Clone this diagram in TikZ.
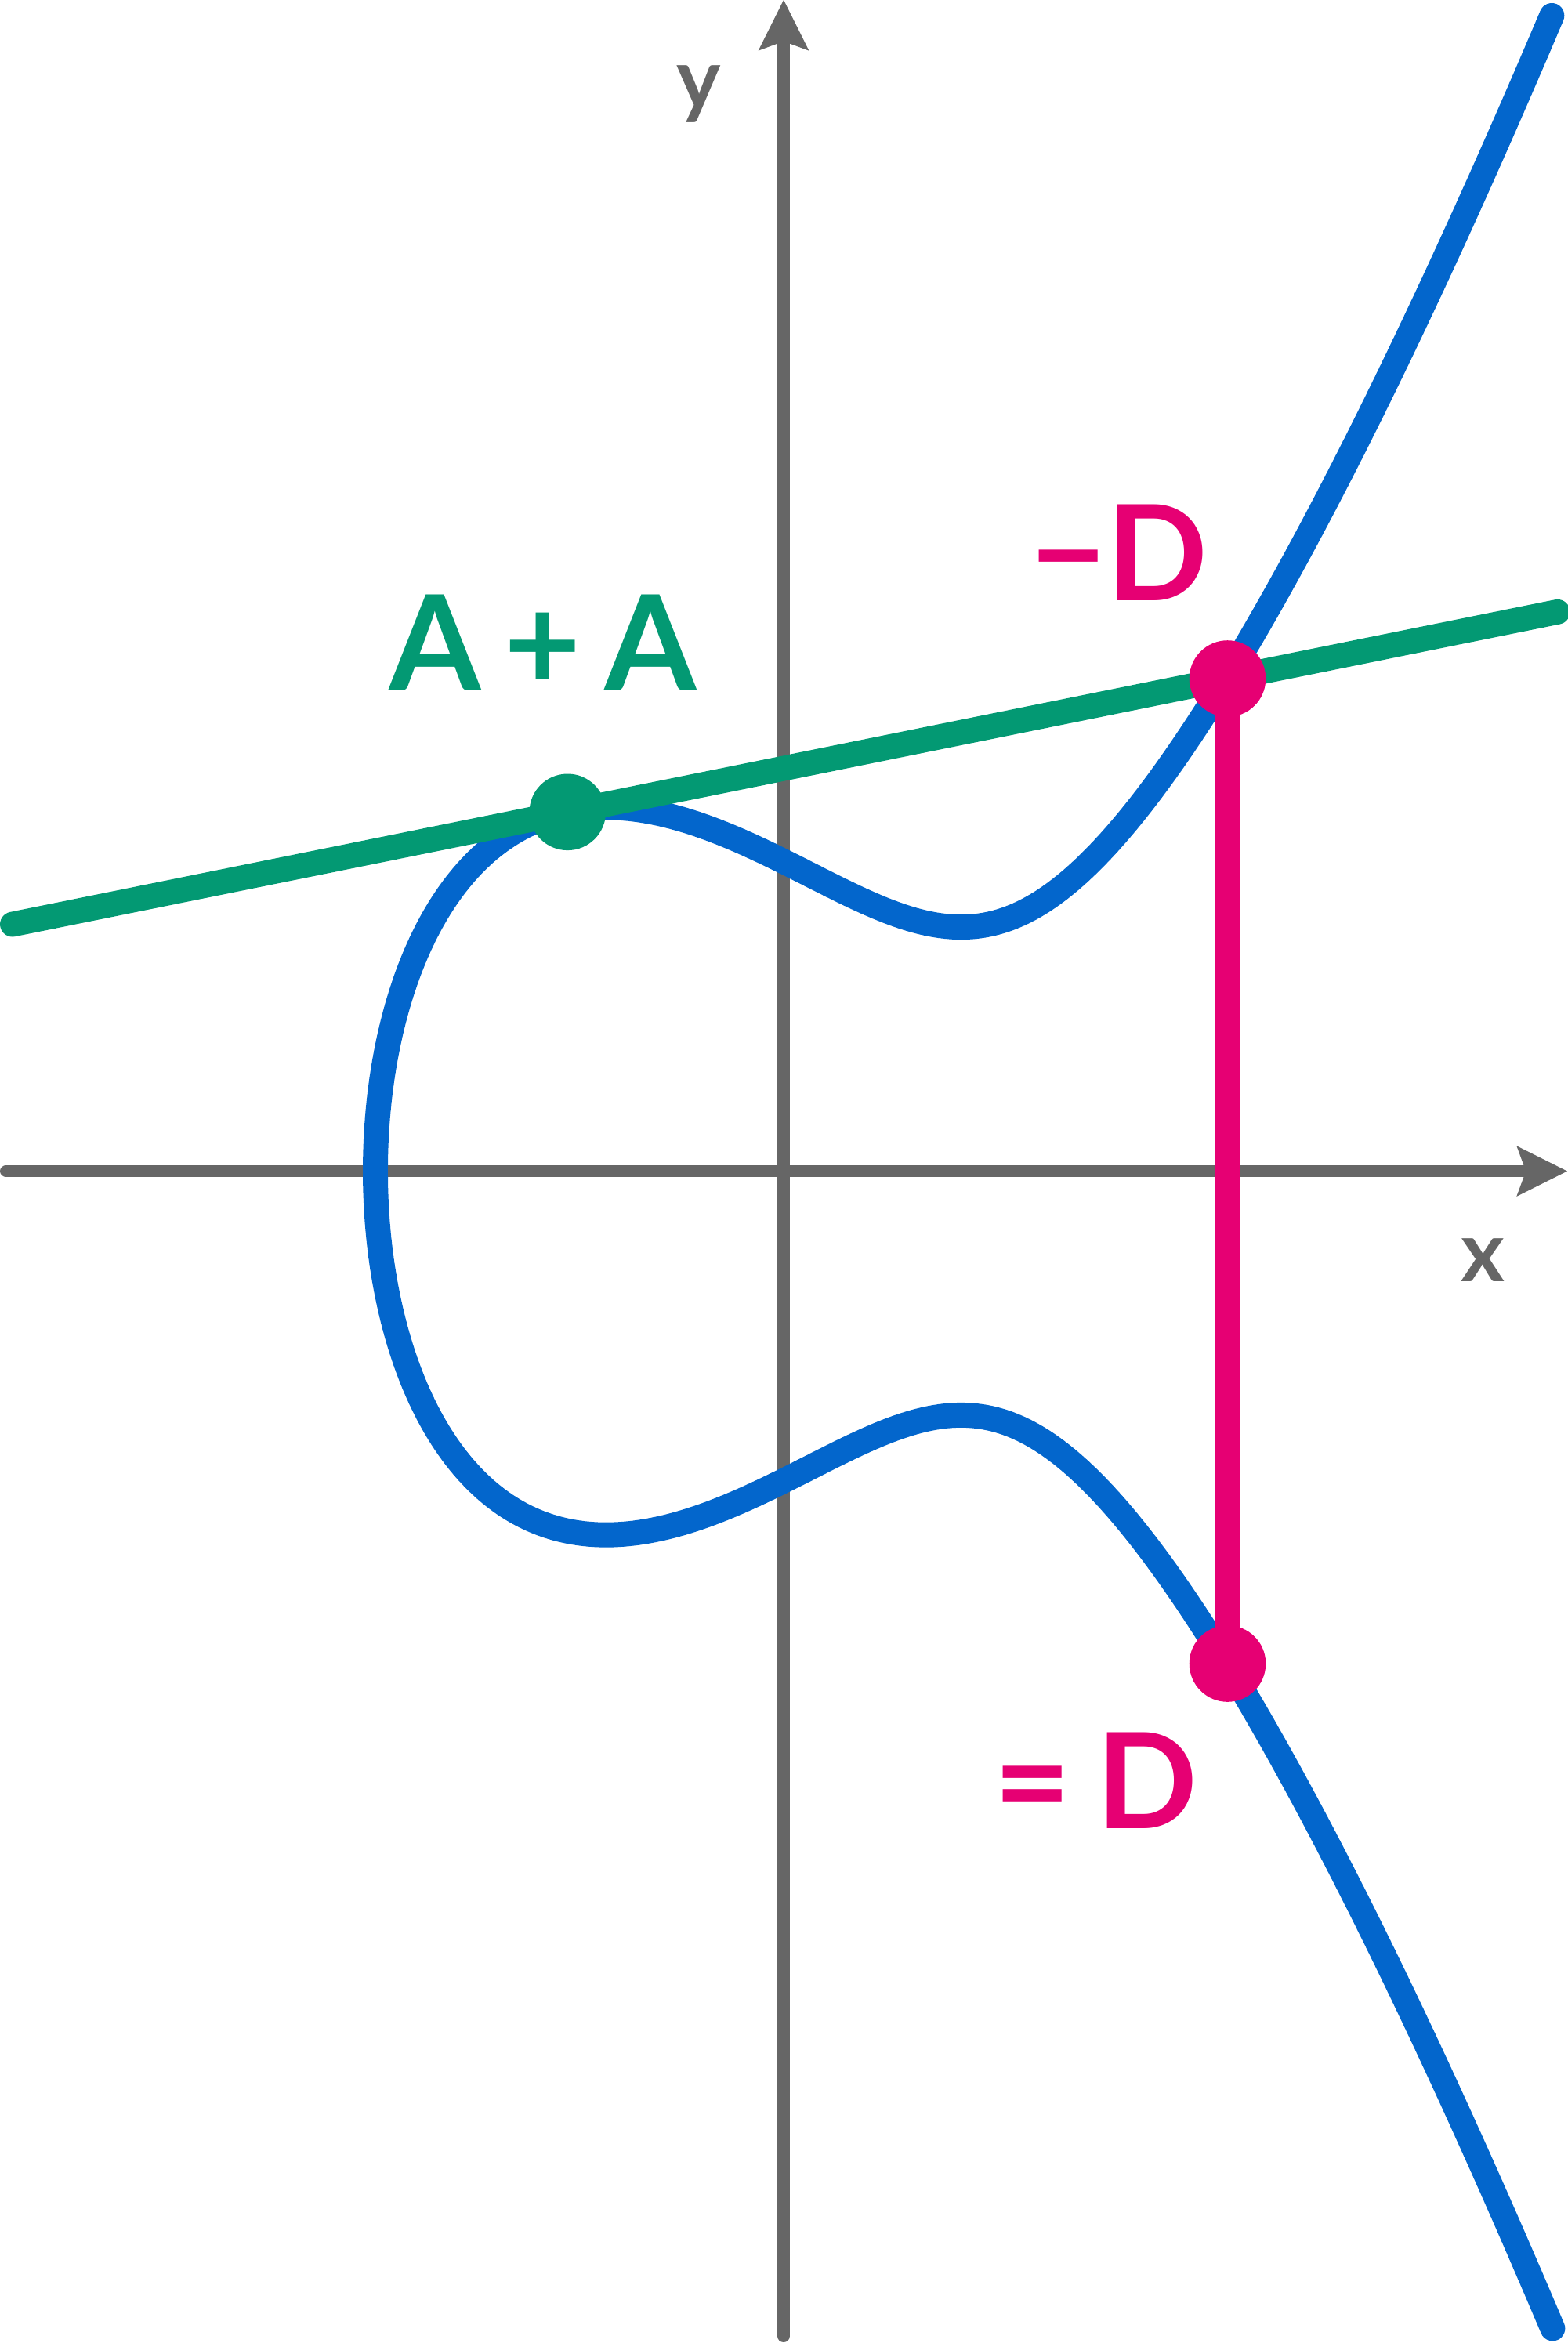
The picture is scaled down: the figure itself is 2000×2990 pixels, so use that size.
\documentclass[tikz,border=0pt]{standalone}
\usepackage{fontspec}
\setmainfont{Lato}
\usetikzlibrary{arrows.meta,calc}
\definecolor{ecblue}{HTML}{0366CC}
\definecolor{ecgreen}{HTML}{039973}
\definecolor{ecpink}{HTML}{E60073}
\definecolor{axisgray}{HTML}{666666}
\pgfdeclarelayer{bg}
\pgfsetlayers{bg,main}
\begin{document}
\begin{tikzpicture}[x=0.025cm,y=-0.025cm,
  axisline/.style={draw=axisgray, line width=11.34pt, line cap=round,
    -{Stealth[length=46pt,width=46pt,inset=8.5pt,line width=0pt]}},
  curveline/.style={draw=ecblue, line width=22.7pt, line cap=round, line join=round},
  tangentline/.style={draw=ecgreen, line width=22.7pt, line cap=round},
  vertline/.style={draw=ecpink, line width=23.4pt},
  dotnode/.style={circle, inner sep=0pt, minimum size=69.4pt},
  biglabel/.style={anchor=base, inner sep=0pt, font=\bfseries\fontsize{120.5pt}{140pt}\selectfont},
  axislabel/.style={anchor=base, inner sep=0pt, text=axisgray, font=\bfseries\fontsize{76pt}{90pt}\selectfont}]
\useasboundingbox (0,0) rectangle (2000,2990);
% points on the curve
\node[dotnode, fill=ecgreen] (A) at (724.3,1036.3) {};
\node[dotnode, fill=ecpink] (mD) at (1566.5,866) {};
\node[dotnode, fill=ecpink] (D) at (1566.5,2123) {};
\begin{pgfonlayer}{bg}
  % axes
  \draw[axisline] (1000,2981) -- (1000,0);
  \draw[axisline] (8,1494.5) -- (2000,1494.5);
  % elliptic curve
  \draw[curveline] plot[domain=-3.876:3.876, samples=600, variable=\t]
    ({1000+100*(\t*\t-5.21)},
     {1494.5-50.5*\t*sqrt((\t*\t-5.21)*(\t*\t-5.21)-5.21*(\t*\t-5.21)+11.756)});
  % tangent line through A and -D
  \coordinate (gL) at ($(A.center)!-0.841!(mD.center)$);
  \coordinate (gR) at ($(A.center)!1.5!(mD.center)$);
  \draw[tangentline] (gL) -- (gR);
  % reflection
  \draw[vertline] (mD.center) -- (D.center);
\end{pgfonlayer}
% labels
\node[biglabel, text=ecgreen] (lblAA) at (693,881) {A\hspace{0.175em}+\hspace{0.175em}A};
\node[biglabel, text=ecpink] (lblmD) at (1428,766) {−D};
\node[biglabel, text=ecpink] (lblD) at (1398.5,2333) {=\hspace{0.195em}D};
\node[axislabel] (lblx) at (1892,1635) {x};
\node[axislabel] (lbly) at (892,139) {y};
\end{tikzpicture}
\end{document}
